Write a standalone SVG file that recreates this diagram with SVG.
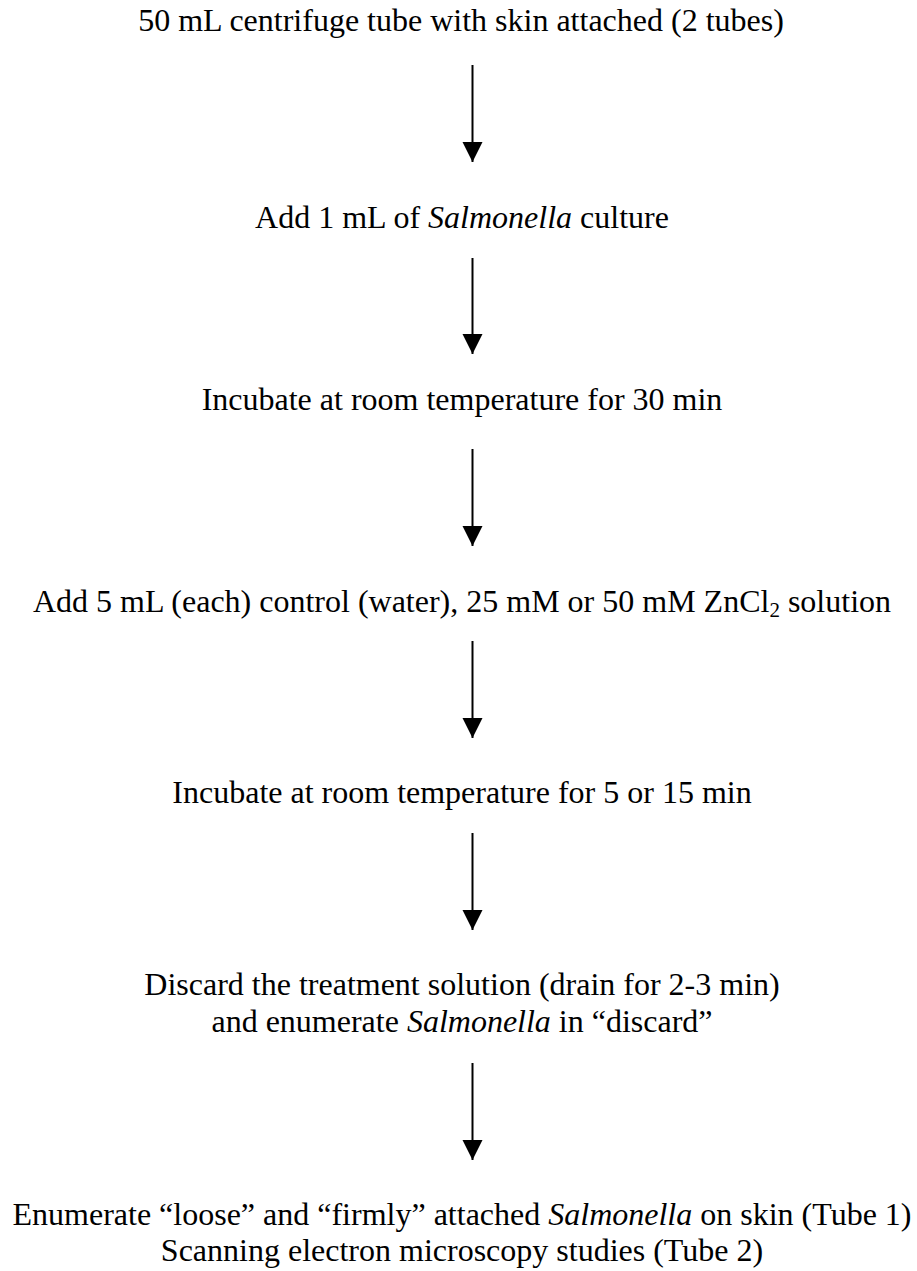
<svg xmlns="http://www.w3.org/2000/svg" width="917" height="1271" viewBox="0 0 917 1271">
<style>
  text { font-family: 'Liberation Serif', 'DejaVu Serif', serif; font-size: 32px; fill: #000; text-anchor: middle; }
  .it { font-style: italic; }
  .arrow { stroke: #000; stroke-width: 2; fill: none; }
  .sub { font-size: 21px; }
</style>
<defs>
  <marker id="ah" markerUnits="userSpaceOnUse" markerWidth="22" markerHeight="22" refX="20" refY="10" orient="auto">
    <path d="M0,0 L20,10 L0,20 Z" fill="#000"/>
  </marker>
</defs>
<rect width="917" height="1271" fill="#fff"/>
<g id="step1"><text x="461" y="31" font-family="Liberation Serif, serif">50 mL centrifuge tube with skin attached (2 tubes)</text></g>
<g id="step2"><text x="462" y="228" font-family="Liberation Serif, serif">Add 1 mL of <tspan class="it">Salmonella</tspan> culture</text></g>
<g id="step3"><text x="462" y="410" font-family="Liberation Serif, serif">Incubate at room temperature for 30 min</text></g>
<g id="step4"><text x="462" y="612" font-family="Liberation Serif, serif">Add 5 mL (each) control (water), 25 mM or 50 mM ZnCl<tspan class="sub" dy="5">2</tspan><tspan dy="-5"> solution</tspan></text></g>
<g id="step5"><text x="462" y="803" font-family="Liberation Serif, serif">Incubate at room temperature for 5 or 15 min</text></g>
<g id="step6">
  <text x="462" y="995" font-family="Liberation Serif, serif">Discard the treatment solution (drain for 2-3 min)</text>
  <text x="462" y="1032" font-family="Liberation Serif, serif">and enumerate <tspan class="it">Salmonella</tspan> in “discard”</text>
</g>
<g id="step7">
  <text x="462" y="1225" font-family="Liberation Serif, serif">Enumerate “loose” and “firmly” attached <tspan class="it">Salmonella</tspan> on skin (Tube 1)</text>
  <text x="462" y="1261" font-family="Liberation Serif, serif">Scanning electron microscopy studies (Tube 2)</text>
</g>
<g id="connectors">
  <line class="arrow" x1="472.5" y1="65" x2="472.5" y2="162" marker-end="url(#ah)"/>
  <line class="arrow" x1="472.5" y1="258" x2="472.5" y2="354" marker-end="url(#ah)"/>
  <line class="arrow" x1="472.5" y1="449" x2="472.5" y2="546" marker-end="url(#ah)"/>
  <line class="arrow" x1="472.5" y1="641" x2="472.5" y2="738" marker-end="url(#ah)"/>
  <line class="arrow" x1="472.5" y1="833" x2="472.5" y2="930" marker-end="url(#ah)"/>
  <line class="arrow" x1="472.5" y1="1063" x2="472.5" y2="1160" marker-end="url(#ah)"/>
</g>
</svg>
